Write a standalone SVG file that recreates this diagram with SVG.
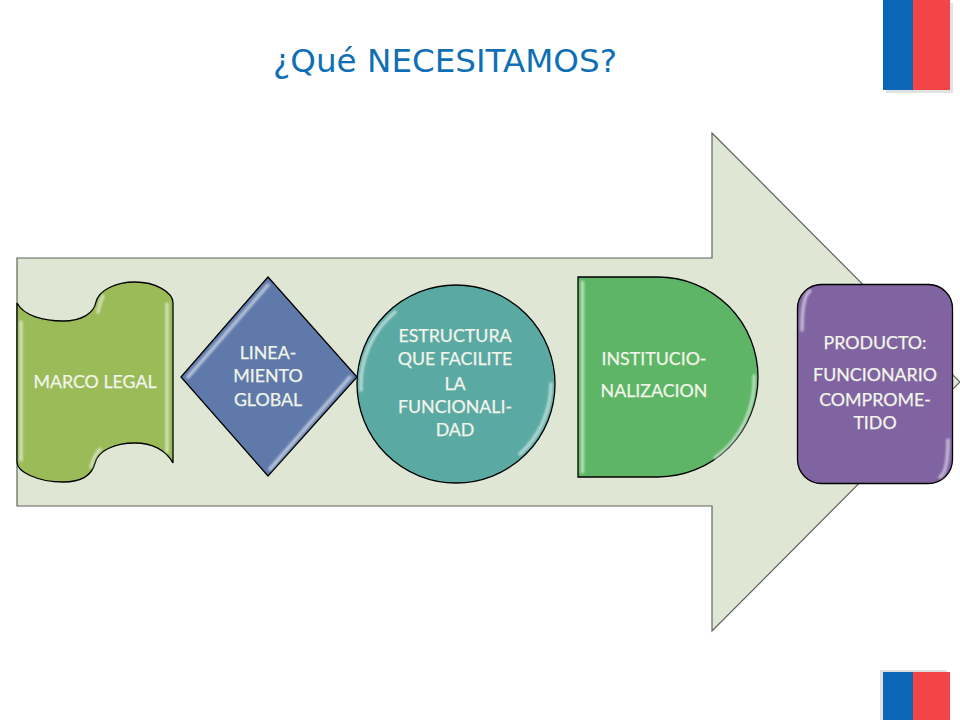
<svg xmlns="http://www.w3.org/2000/svg" width="960" height="720" viewBox="0 0 960 720">
<style>
.lbl{font-family:"Lato","Open Sans","Liberation Sans",sans-serif;font-size:17.8px;fill:#f2f5ea;stroke:#f2f5ea;stroke-width:.25;text-anchor:middle}
.sh{stroke:#000;stroke-width:1.3}
.hl{fill:none;stroke:#fff;stroke-width:3.5;stroke-linecap:round;opacity:.55;filter:url(#soft)}
</style>
<defs>
<filter id="soft" x="-20%" y="-20%" width="140%" height="140%"><feGaussianBlur stdDeviation="0.9"/></filter>
</defs>
<rect width="960" height="720" fill="#fff"/>
<text id="title" x="445" y="72" font-family="'DejaVu Sans',Verdana,sans-serif" font-size="32.600" fill="#0f6fb5" text-anchor="middle">¿Qué NECESITAMOS?</text>
<g id="flag-top">
<rect x="886" y="3" width="67" height="90" fill="#e2e2e2"/>
<rect x="883" y="0" width="30" height="90" fill="#0b66b7"/>
<rect x="913" y="0" width="37" height="90" fill="#f34447"/>
</g>
<g id="flag-bottom">
<rect x="880" y="670" width="67" height="50" fill="#e0e0e0"/>
<rect x="883" y="672" width="30" height="48" fill="#0b66b7"/>
<rect x="913" y="672" width="37" height="48" fill="#f34447"/>
</g>
<g id="arrow">
<path d="M17 258H712V133L960 382L712 631V506H17Z" fill="#dfe6d3" stroke="#5f645b" stroke-width="1.2"/>
</g>
<g id="marco-legal">
<path class="sh" d="M17 303C24 316 44 321 63 321C82 321 94 313 96 302C99 290 116 282 135 282C155 282 173 292 173 303V463C166 450 152 443 135 443C114 443 98 451 95 463C92 475 82 482 63 482C38 482 17 472 17 462Z" fill="#9bbb59"/>
<path class="hl" d="M21 322V460M167 304V452M98 312Q100 302 103 296M91 467Q94 456 100 449"/>
<text class="lbl" x="95" y="388">MARCO LEGAL</text>
</g>
<g id="lineamiento">
<path class="sh" d="M268 277L357 377L268 476L181 377Z" fill="#5f7aaa"/>
<path class="hl" d="M188 377L268 285M350 377L270 469"/>
<text class="lbl"><tspan x="268" y="359">LINEA-</tspan><tspan x="268" y="382">MIENTO</tspan><tspan x="268" y="406">GLOBAL</tspan></text>
</g>
<g id="estructura">
<circle class="sh" cx="456" cy="384" r="99" fill="#5ba9a3"/>
<path class="hl" d="M361 390A95 95 0 0 1 395 312M551 384A95 95 0 0 1 520 454"/>
<text class="lbl"><tspan x="455" y="342">ESTRUCTURA</tspan><tspan x="455" y="365">QUE FACILITE</tspan><tspan x="455" y="390">LA</tspan><tspan x="455" y="413">FUNCIONALI-</tspan><tspan x="455" y="436">DAD</tspan></text>
</g>
<g id="institucionalizacion">
<path class="sh" d="M578 277H658A100 100 0 0 1 658 477H578Z" fill="#5db565"/>
<path class="hl" d="M582.500 282V472M754 376A96 96 0 0 1 715 458"/>
<text class="lbl"><tspan x="654" y="365">INSTITUCIO-</tspan><tspan x="654" y="397">NALIZACION</tspan></text>
</g>
<g id="producto">
<rect class="sh" x="797.500" y="284.500" width="155" height="199" rx="24" fill="#8063a1"/>
<path class="hl" d="M802 330Q802 296 810 291M948 440Q948 472 940 477"/>
<text class="lbl"><tspan x="875" y="349">PRODUCTO:</tspan><tspan x="875" y="381">FUNCIONARIO</tspan><tspan x="875" y="406">COMPROME-</tspan><tspan x="875" y="429">TIDO</tspan></text>
</g>
</svg>
